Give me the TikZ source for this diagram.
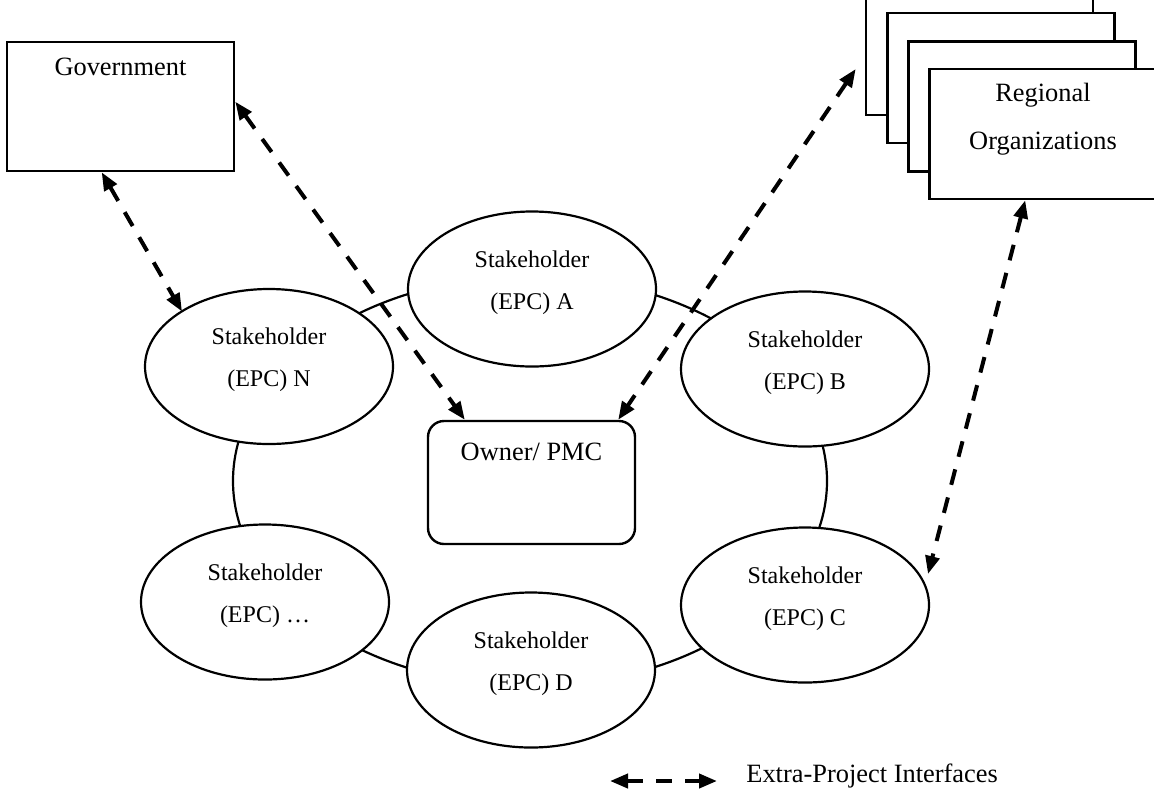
\documentclass[tikz,border=0pt]{standalone}
\usepackage{fontspec}
\setmainfont{Liberation Serif}
\usetikzlibrary{shapes.geometric,arrows.meta,calc}

% two-line stakeholder label, aligned on the baseline of its first line
\newcommand\stk[1]{\begin{tabular}[t]{@{}c@{}}Stakeholder\\(EPC) #1\end{tabular}}

\begin{document}
\begin{tikzpicture}[x=0.5pt,y=-0.5pt,
  party/.style={ellipse, draw, fill=white, line width=1.1pt, inner sep=0pt,
    minimum width=124pt, minimum height=77.5pt,
    font=\fontsize{12}{21}\selectfont, text height=0pt, text depth=22pt},
  org/.style={rectangle, draw, fill=white, line width=1.3pt, inner sep=0pt,
    minimum width=113.5pt, minimum height=65pt},
  txt/.style={inner sep=0pt, font=\fontsize{13.2}{24}\selectfont},
  iface/.style={line width=2pt, dash pattern=on 8pt off 6.5pt,
    {Triangle[length=9pt,width=7pt]}-{Triangle[length=9pt,width=7pt]}},
  ring/.style={line width=1.1pt}]

\useasboundingbox (0,0) rectangle (1154,793);

% ring of project interfaces joining the stakeholders
\draw[ring] (530,481) ellipse [x radius=297, y radius=205];

% stakeholders
\node[party] (A) at (532,289)   {\stk{A}};
\node[party] (B) at (805,369)   {\stk{B}};
\node[party] (C) at (805,605)   {\stk{C}};
\node[party] (D) at (531,670)   {\stk{D}};
\node[party] (E) at (265,602)   {\stk{…}};
\node[party] (N) at (269,366.5) {\stk{N}};

% owner in the middle
\node[draw, fill=white, line width=1.2pt, rounded corners=8pt, inner sep=0pt,
      minimum width=103.5pt, minimum height=61.5pt] (own) at (531.5,482.5) {};
\node[txt, anchor=base] (ownt) at ($(own.north)+(0,41)$) {Owner/ PMC};

% government
\node[org, minimum height=64.5pt] (gov) at (120.5,106.5) {};
\node[txt, anchor=base] (govt) at ($(gov.north)+(0,35)$) {Government};

% stack of regional organizations
\node[org] (r1) at (979.5,50)  {};
\node[org] (r2) at (1001,78)   {};
\node[org] (r3) at (1022,106.5) {};
\node[org] (r4) at (1043,134)  {};
\node[txt, anchor=base] (regt) at ($(r4.north)+(0,34)$)
  {\begin{tabular}[t]{@{}c@{}}Regional\\Organizations\end{tabular}};

% extra-project interfaces
\draw[iface] ($(gov.south west)+(96,0)$) -- ($(N.center)+(-87,-55)$);
\draw[iface] ($(gov.north east)+(0,61)$) -- ($(own.north west)+(38,0)$);
\draw[iface] ($(r1.west)+(-9,19)$) -- ($(own.north east)+(-18,0)$);
\draw[iface] ($(r4.south west)+(97,0)$) -- ($(C.center)+(123,-31)$);

% legend
\node[txt, anchor=base west] (lgt) at (746,782) {Extra-Project Interfaces};
\coordinate (lgL) at ($(lgt.base west)+(-136,-1)$);
\coordinate (lgR) at ($(lgt.base west)+(-29,-1)$);
\draw[iface] (lgL) -- (lgR);
\end{tikzpicture}
\end{document}
